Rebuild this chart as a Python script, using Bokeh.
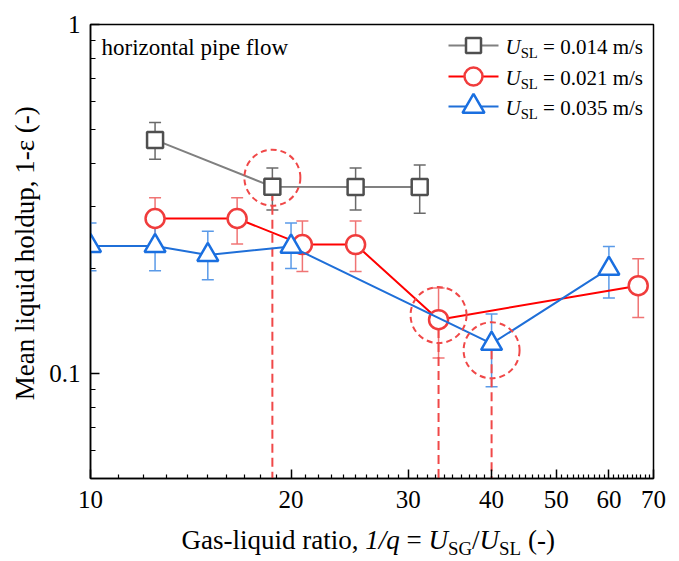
import math

from bokeh.embed import file_html
from bokeh.layouts import column, row
from bokeh.models import (ColumnDataSource, CustomJSTickFormatter, FixedTicker,
                          Label, Range1d, TeeHead, Whisker)
from bokeh.plotting import figure
from bokeh.resources import INLINE

# ---------------------------------------------------------------- data
# gas-liquid ratio 1/q and mean liquid holdup 1-eps, with error bar limits
ratio_014 = [12.5, 18.75, 25.0, 31.2]
holdup_014 = [0.467, 0.343, 0.342, 0.342]
upper_014 = [0.524, 0.388, 0.388, 0.396]
lower_014 = [0.411, 0.294, 0.294, 0.288]

ratio_021 = [12.5, 16.6, 20.8, 25.0, 33.3, 66.4]
holdup_021 = [0.278, 0.278, 0.234, 0.234, 0.1426, 0.1785]
upper_021 = [0.319, 0.319, 0.2735, 0.2735, 0.1758, 0.213]
lower_021 = [0.235, 0.235, 0.196, 0.196, 0.1107, 0.1447]

ratio_035 = [10.0, 12.5, 15.0, 20.0, 40.0, 60.0]
holdup_035 = [0.232, 0.232, 0.2186, 0.231, 0.1217, 0.1997]
upper_035 = [0.27, 0.27, 0.2555, 0.27, 0.148, 0.231]
lower_035 = [0.197, 0.197, 0.1857, 0.20, 0.0916, 0.1645]

# transition points marked with a dashed ring and a drop line
marked_ratio = [18.75, 33.3, 40.0]
marked_holdup = [0.364, 0.147, 0.1165]

series_labels = ["0.014", "0.021", "0.035"]

x_ticks = [10, 20, 30, 40, 50, 60, 70]
y_ticks = [0.1, 1]

# ---------------------------------------------------------------- layout
W, H = 679, 561
YT_W = 46            # strip holding the y-axis title
XT_H = 39            # strip holding the x-axis title
FL, FR, FT, FB = 90, 653, 24, 478   # plot frame on the page
X_RANGE = (10, 70)
Y_RANGE = (0.05, 1)
FONT = "Liberation Serif"
BASELINE_FIX = 0.3   # label anchors sit this many em below the drawn baseline

GRAY_LINE, GRAY_EDGE, GRAY_ERR = "#808080", "#4f4f4f", "#6a6a6a"
RED_LINE, RED_EDGE, RED_ERR = "#ff0000", "#f03c3c", "#f07474"
BLUE_LINE, BLUE_EDGE, BLUE_ERR = "#1f6fd8", "#1a6fe0", "#5a9ae8"
RING = "#f04848"


def px_to_x(cx):
    lo, hi = math.log10(X_RANGE[0]), math.log10(X_RANGE[1])
    return 10 ** (lo + (cx - FL) / (FR - FL) * (hi - lo))


def px_to_y(cy):
    lo, hi = math.log10(Y_RANGE[0]), math.log10(Y_RANGE[1])
    return 10 ** (hi - (cy - FT) / (FB - FT) * (hi - lo))


# advance widths of the serif face (per 1000 em)
ADV = {" ": 250, "(": 333, ")": 333, ",": 250, "-": 333, ".": 250, "/": 278,
       "=": 564, "G": 722, "L": 611, "S": 556, "U": 722, "M": 889, "a": 444,
       "c": 444, "d": 500, "e": 444, "f": 333, "g": 500, "h": 500, "i": 278,
       "l": 278, "m": 778, "n": 500, "o": 500, "p": 500, "q": 500, "r": 333,
       "s": 389, "t": 278, "u": 500, "w": 722, "z": 444, "\u03b5": 440}


def adv(s, size):
    return sum(ADV.get(ch, 500) for ch in s) / 1000.0 * size


def rich_text(fig, to_x, to_y, runs, cx, cy, size, vertical=False):
    """Place runs of (text, kind) one after another from baseline point (cx, cy)."""
    pos = 0.0
    for text, kind in runs:
        fs = size * 0.7 if kind == "sub" else size
        shift = size * 0.2 if kind == "sub" else 0.0
        shift -= BASELINE_FIX * fs
        core = text.strip(" ")
        lead = len(text) - len(text.lstrip(" "))
        trail = len(text) - len(text.rstrip(" "))
        pos += adv(" " * lead, fs)
        if vertical:
            px, py = cx + shift, cy - pos
        else:
            px, py = cx + pos, cy + shift
        fig.add_layout(Label(x=to_x(px), y=to_y(py), text=core,
                             text_font=FONT, text_font_size=f"{fs:.1f}px",
                             text_font_style="italic" if kind == "i" else "normal",
                             text_align="left", text_baseline="alphabetic",
                             text_color="black",
                             angle=math.pi / 2 if vertical else 0))
        pos += adv(core, fs) + adv(" " * trail, fs)


def text_strip(w, h):
    """A bare drawing area measured in pixels from its bottom-left corner."""
    f = figure(width=w, height=h, x_range=Range1d(0, w), y_range=Range1d(0, h),
               output_backend="svg", toolbar_location=None,
               x_axis_location=None, y_axis_location=None,
               min_border_left=0, min_border_right=0,
               min_border_top=0, min_border_bottom=0)
    f.grid.visible = False
    f.outline_line_color = None
    f.background_fill_color = "white"
    f.border_fill_color = "white"
    return f


# ---------------------------------------------------------------- main plot
p = figure(width=W - YT_W, height=H - XT_H, x_axis_type="log", y_axis_type="log",
           x_range=X_RANGE, y_range=Y_RANGE, output_backend="svg",
           toolbar_location=None, min_border_left=FL - YT_W,
           min_border_right=W - FR, min_border_top=FT,
           min_border_bottom=H - XT_H - FB)
p.grid.visible = False
p.outline_line_color = "black"
p.outline_line_width = 1.5
p.background_fill_color = "white"
p.border_fill_color = "white"

p.xaxis.ticker = FixedTicker(ticks=x_ticks,
                             minor_ticks=[d * 10 + k for d in range(1, 7) for k in range(1, 10)])
p.yaxis.ticker = FixedTicker(ticks=y_ticks,
                             minor_ticks=[0.06, 0.07, 0.08, 0.09] + [k / 10 for k in range(2, 10)])
for ax in (p.xaxis, p.yaxis):
    ax.formatter = CustomJSTickFormatter(code="return tick.toString()")
    ax.axis_line_width = 1.5
    ax.major_tick_line_width = 1.5
    ax.minor_tick_line_width = 1.2
    ax.major_tick_in = 9
    ax.major_tick_out = 0
    ax.minor_tick_out = 0
    ax.major_label_text_font = FONT
    ax.major_label_text_font_size = "25px"
    ax.major_label_text_color = "black"
p.xaxis.minor_tick_in = 4
p.yaxis.minor_tick_in = 5
p.xaxis.major_label_standoff = 12
p.yaxis.major_label_standoff = 10

# error bars, drawn beneath everything else
for xs, up, lo, col in ((ratio_014, upper_014, lower_014, GRAY_ERR),
                        (ratio_021, upper_021, lower_021, RED_ERR),
                        (ratio_035, upper_035, lower_035, BLUE_ERR)):
    src = ColumnDataSource(dict(x=xs, upper=up, lower=lo))
    p.add_layout(Whisker(base="x", upper="upper", lower="lower", source=src,
                         dimension="height", level="underlay",
                         line_color=col, line_width=1.5,
                         upper_head=TeeHead(size=12, line_color=col, line_width=1.5),
                         lower_head=TeeHead(size=12, line_color=col, line_width=1.5)))

# drop lines from the marked points to the axis
for mx, my in zip(marked_ratio, marked_holdup):
    p.line([mx, mx], [my, Y_RANGE[0]], line_color=RING, line_width=2,
           line_dash="9 5")

series = [
    (ratio_014, holdup_014, GRAY_LINE, GRAY_EDGE, "square", 16, 15),
    (ratio_021, holdup_021, RED_LINE, RED_EDGE, "circle", 19, 18),
    (ratio_035, holdup_035, BLUE_LINE, BLUE_EDGE, "triangle", 21, 22),
]
for xs, ys, lc, ec, mk, sz, _ in series:
    p.line(xs, ys, line_color=lc, line_width=2)
    p.scatter(xs, ys, marker=mk, size=sz, fill_color="white",
              line_color=ec, line_width=2.5)

# dashed rings around the marked points
p.scatter(marked_ratio, marked_holdup, marker="circle", size=56,
          fill_color=None, line_color=RING, line_width=2, line_dash="6 4")

# annotation
rich_text(p, px_to_x, px_to_y, [("horizontal pipe flow", "n")], 101, 54, 23)

# legend
row_y = [45, 76, 106]
for (xs, ys, lc, ec, mk, sz, key_sz), name, ry in zip(series, series_labels, row_y):
    p.line([px_to_x(448), px_to_x(498)], [px_to_y(ry), px_to_y(ry)],
           line_color=lc, line_width=2)
    p.scatter([px_to_x(473)], [px_to_y(ry)], marker=mk, size=key_sz,
              fill_color="white", line_color=ec, line_width=2.5)
    rich_text(p, px_to_x, px_to_y,
              [("U", "i"), ("SL", "sub"), (f" = {name} m/s", "n")], 505, ry + 8, 21)

# ---------------------------------------------------------------- axis titles
# page pixels (from the top-left) are turned into strip coordinates
ytitle = text_strip(YT_W, H - XT_H)
rich_text(ytitle, lambda v: v, lambda v: (H - XT_H) - v,
          [("Mean liquid holdup, 1-\u03b5 (-)", "n")],
          33, 432, 27, vertical=True)

xtitle = text_strip(W, XT_H)
rich_text(xtitle, lambda v: v, lambda v: H - v,
          [("Gas-liquid ratio, ", "n"), ("1/q", "i"), (" = ", "n"), ("U", "i"),
           ("SG", "sub"), ("/", "n"), ("U", "i"), ("SL", "sub"), (" (-)", "n")],
          181, 548, 27)

page = column(row(ytitle, p, spacing=0), xtitle, spacing=0)

open("out.html", "w").write(file_html(page, INLINE))
